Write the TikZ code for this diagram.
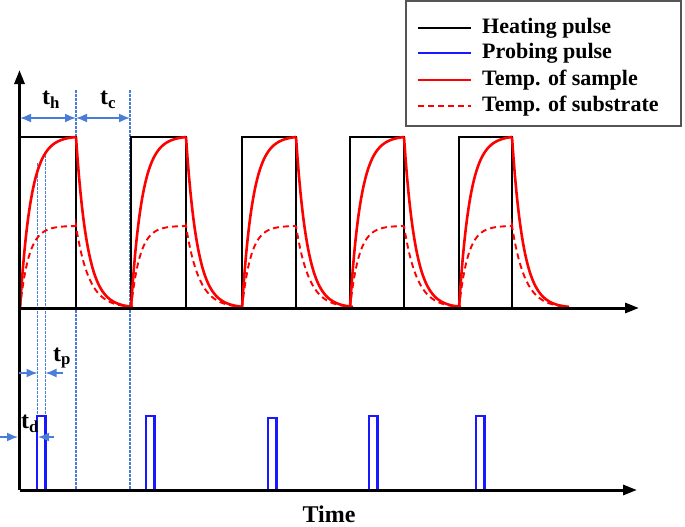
\documentclass[tikz,border=0pt]{standalone}
\usepackage{fontspec}
\setmainfont{Liberation Serif}
\usetikzlibrary{arrows.meta, positioning}
\definecolor{dimblue}{RGB}{74,125,215}
\definecolor{probeblue}{RGB}{25,25,255}
\definecolor{legframe}{RGB}{85,85,85}

\begin{document}
\begin{tikzpicture}[x=1pt, y=-1pt,
    axis/.style={black, line width=3pt, -{Triangle[length=14pt,width=10pt]}},
    heat/.style={black, line width=2.8pt},
    probe/.style={probeblue, line width=2.3pt},
    sample/.style={red, line width=2.6pt},
    substrate/.style={red, line width=1.9pt, dash pattern=on 6pt off 4pt},
    guide/.style={dimblue, line width=1.1pt, dash pattern=on 2.5pt off 1.5pt},
    dim/.style={dimblue, line width=1.6pt, -{Latex[length=11pt,width=9pt]}},
    dimboth/.style={dimblue, line width=1.6pt, {Latex[length=11pt,width=9pt]}-{Latex[length=11pt,width=9pt]}},
    lbl/.style={font=\fontsize{24}{26}\selectfont\bfseries, inner sep=0pt},
    legtext/.style={font=\fontsize{22}{24}\selectfont\bfseries, anchor=west, inner sep=0pt}]

\useasboundingbox (0,0) rectangle (685,527);

% guide lines
\draw[guide] (37.5,163) -- (37.5,490);
\draw[guide] (45.5,155) -- (45.5,490);
\draw[guide] (76,90) -- (76,490);
\draw[guide] (130,90) -- (130,490);

% heating pulses
\foreach \a/\b in {20/76,131/186,242/296,350/404,459/512}
  \draw[heat] (\a,308) -- (\a,137) -- (\b,137) -- (\b,308);

% temperatures
\foreach \a/\b [evaluate=\b as \w using \b-\a] in {20/76,131/186,242/296,350/404,459/512} {
  \draw[sample] plot[domain=0:\w, samples=40] ({\a+\x},{308-171*(1-exp(-\x/11))/(1-exp(-\w/11))})
    -- plot[domain=0:57, samples=40] ({\b+\x},{308-171*exp(-\x/11.4)});
  \draw[substrate] plot[domain=0:\w, samples=40] ({\a+\x},{308-82*(1-exp(-\x/9))/(1-exp(-\w/9))})
    -- plot[domain=0:50, samples=40] ({\b+\x},{308-82*exp(-\x/13)});
}

% probing pulses
\foreach \a/\t in {37/416,146/416,268/418,369/416,476/416}
  \draw[probe] (\a,490) -- (\a,\t) -- (\a+8.5,\t) -- (\a+8.5,490);

% axes
\coordinate (o) at (19.5,490);
\coordinate (ytip) at (19.5,70);
\coordinate (o1) at (19.5,308);
\coordinate (x1tip) at (639,308);
\coordinate (x2tip) at (637,490);
\draw[axis] (o) -- (ytip);
\draw[axis] (o1) -- (x1tip);
\draw[axis] (o) -- (x2tip);
\node[lbl] (time) at (329,514) {Time};

% dimensions
\coordinate (h0) at (20,118);
\coordinate (h1) at (76,118);
\coordinate (c1) at (130,118);
\draw[dimboth] (h0) -- (h1);
\draw[dimboth] (h1) -- (c1);
\node[lbl] (th) at (51,100) {t\textsubscript{h}};
\node[lbl] (tc) at (108,100) {t\textsubscript{c}};

\coordinate (p0) at (19,373);
\coordinate (p1) at (37.5,373);
\coordinate (p2) at (45.5,373);
\coordinate (p3) at (63,373);
\draw[dim] (p0) -- (p1);
\draw[dim] (p3) -- (p2);
\node[lbl] (tp) at (62,358) {t\textsubscript{p}};

\coordinate (d0) at (0,437);
\coordinate (d1) at (18,437);
\coordinate (d2) at (38,437);
\coordinate (d3) at (54,437);
\draw[dim] (d0) -- (d1);
\draw[dim] (d3) -- (d2);
\node[lbl] (td) at (30,424) {t\textsubscript{d}};

% legend
\draw[legframe, line width=1.4pt] (406,1) rectangle (681,126);
\foreach \y/\s/\txt [count=\i] in {28/heat/Heating pulse,53/probe/Probing pulse,80/sample/Temp. of sample,106/substrate/Temp. of substrate} {
  \draw[\s, line width=1.6pt] (418,\y) -- (471,\y);
  \node[legtext] (leg\i) at (482,\y) {\txt};
}
\end{tikzpicture}
\end{document}
